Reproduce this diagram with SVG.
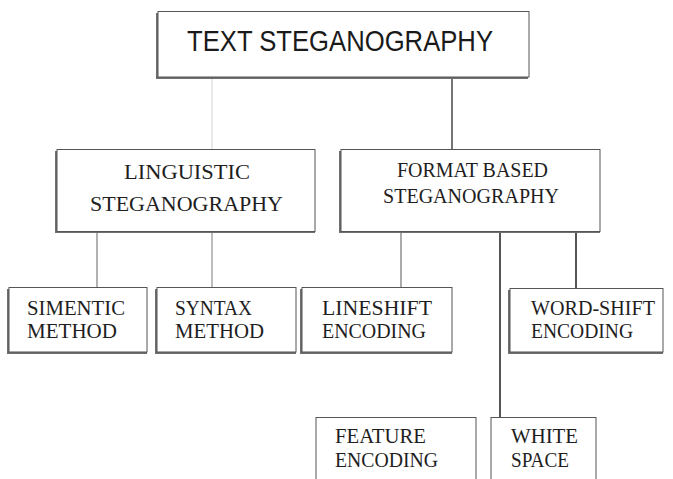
<svg xmlns="http://www.w3.org/2000/svg" width="673" height="479" viewBox="0 0 673 479">
<style>
.sh{fill:#6f6f6f}
.bx{fill:#fff;stroke:#555;stroke-width:1}
.t{font-family:"Liberation Serif","Times New Roman",serif;fill:#1e1e1e;font-size:20px}
.tc{text-anchor:middle}
.ts{font-family:"Liberation Sans",Arial,sans-serif;fill:#1a1a1a;font-size:29px;text-anchor:middle}
.c{fill:none}
</style>
<rect width="673" height="479" fill="#fff"/>
<g id="connectors" class="c">
<line x1="212" y1="77" x2="212" y2="149" stroke="#e2e2e2" stroke-width="1.5"/>
<line x1="452" y1="77" x2="452" y2="149" stroke="#666" stroke-width="1.8"/>
<line x1="97" y1="232" x2="97" y2="287" stroke="#888" stroke-width="1.3"/>
<line x1="212" y1="232" x2="212" y2="287" stroke="#999" stroke-width="1.3"/>
<line x1="401" y1="232" x2="401" y2="287" stroke="#888" stroke-width="1.4"/>
<line x1="500" y1="232" x2="500" y2="417" stroke="#555" stroke-width="2"/>
<line x1="576" y1="232" x2="576" y2="288" stroke="#555" stroke-width="2"/>
</g>
<g id="n-text">
<rect class="sh" x="156" y="13" width="372" height="66"/>
<rect class="bx" x="158" y="11.5" width="371" height="65.5"/>
<text class="ts" x="340" y="51" textLength="306" lengthAdjust="spacingAndGlyphs">TEXT STEGANOGRAPHY</text>
</g>
<g id="n-ling">
<rect class="sh" x="55" y="151" width="260" height="82"/>
<rect class="bx" x="57" y="149.5" width="258" height="82"/>
<text class="t tc" x="187" y="179" font-size="21" textLength="126" lengthAdjust="spacingAndGlyphs">LINGUISTIC</text>
<text class="t tc" x="186.5" y="211" font-size="21" textLength="193" lengthAdjust="spacingAndGlyphs">STEGANOGRAPHY</text>
</g>
<g id="n-format">
<rect class="sh" x="339" y="151" width="261" height="82"/>
<rect class="bx" x="341" y="149.5" width="259" height="82"/>
<text class="t tc" x="472.5" y="177" font-size="20" textLength="151" lengthAdjust="spacingAndGlyphs">FORMAT BASED</text>
<text class="t tc" x="471" y="203" font-size="20" textLength="176" lengthAdjust="spacingAndGlyphs">STEGANOGRAPHY</text>
</g>
<g id="n-simentic">
<rect class="sh" x="7" y="289" width="140" height="65"/>
<rect class="bx" x="9" y="287.5" width="138" height="64.5"/>
<text class="t" x="27" y="315" textLength="98" lengthAdjust="spacingAndGlyphs">SIMENTIC</text>
<text class="t" x="27" y="338" textLength="90" lengthAdjust="spacingAndGlyphs">METHOD</text>
</g>
<g id="n-syntax">
<rect class="sh" x="155" y="289" width="141" height="65"/>
<rect class="bx" x="157" y="287.5" width="139" height="64.5"/>
<text class="t" x="175" y="315" textLength="77" lengthAdjust="spacingAndGlyphs">SYNTAX</text>
<text class="t" x="175" y="338" textLength="89" lengthAdjust="spacingAndGlyphs">METHOD</text>
</g>
<g id="n-lineshift">
<rect class="sh" x="300" y="289" width="152" height="65"/>
<rect class="bx" x="302" y="287.5" width="150" height="64.5"/>
<text class="t" x="322" y="315" textLength="110" lengthAdjust="spacingAndGlyphs">LINESHIFT</text>
<text class="t" x="322" y="338" textLength="104" lengthAdjust="spacingAndGlyphs">ENCODING</text>
</g>
<g id="n-wordshift">
<rect class="sh" x="508" y="290" width="155" height="64"/>
<rect class="bx" x="510" y="288.5" width="153" height="63.5"/>
<text class="t" x="531" y="315" textLength="124" lengthAdjust="spacingAndGlyphs">WORD-SHIFT</text>
<text class="t" x="531" y="338" textLength="102" lengthAdjust="spacingAndGlyphs">ENCODING</text>
</g>
<g id="n-feature">
<rect class="bx" x="316" y="417.5" width="160" height="70"/>
<text class="t" x="335" y="443" textLength="91" lengthAdjust="spacingAndGlyphs">FEATURE</text>
<text class="t" x="335" y="467" textLength="103" lengthAdjust="spacingAndGlyphs">ENCODING</text>
</g>
<g id="n-white">
<rect class="bx" x="491" y="417.5" width="105" height="70"/>
<text class="t" x="511" y="443" textLength="67" lengthAdjust="spacingAndGlyphs">WHITE</text>
<text class="t" x="511" y="467" textLength="58" lengthAdjust="spacingAndGlyphs">SPACE</text>
</g>
</svg>
